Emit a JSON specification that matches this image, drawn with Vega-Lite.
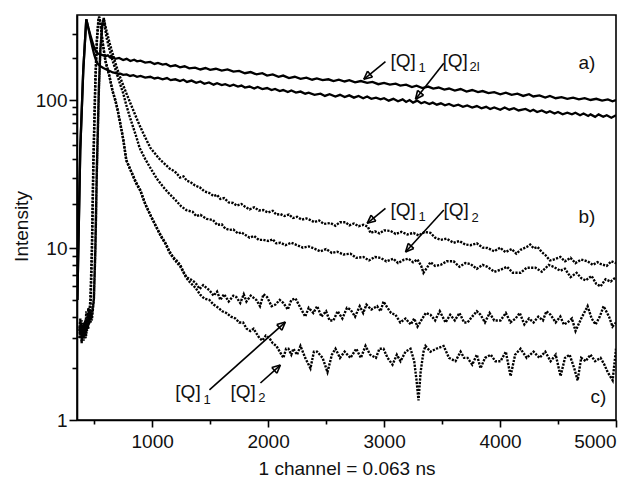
{
"$schema": "https://vega.github.io/schema/vega-lite/v6.json",
"width": 539, "height": 405,
"autosize": {"type": "none"},
"padding": {"left": 77, "top": 15, "right": 4, "bottom": 61},
"background": "white",
"config": {
  "view": {"stroke": "#000", "strokeWidth": 1.6},
  "font": "Liberation Sans",
  "axis": {"domainColor": "#000", "domainWidth": 1.6, "tickColor": "#000", "tickWidth": 1.6, "labelColor": "#111", "titleColor": "#111", "labelFont": "Liberation Sans", "titleFont": "Liberation Sans", "labelFontSize": 19, "titleFontSize": 19, "titleFontWeight": "normal", "grid": false}
},
"datasets": {
"curves": [
{"s":"a1","x":355,"y":5.0},{"s":"a1","x":380,"y":46},{"s":"a1","x":406,"y":164},{"s":"a1","x":432,"y":382},{"s":"a1","x":450,"y":330},{"s":"a1","x":467,"y":294},{"s":"a1","x":485,"y":262},{"s":"a1","x":501,"y":237},{"s":"a1","x":515,"y":225},{"s":"a1","x":527,"y":218},{"s":"a1","x":545,"y":214},{"s":"a1","x":560,"y":212},{"s":"a1","x":578,"y":210},{"s":"a1","x":596,"y":207},{"s":"a1","x":618,"y":210},{"s":"a1","x":640,"y":202},{"s":"a1","x":660,"y":205},{"s":"a1","x":682,"y":198},{"s":"a1","x":715,"y":201},{"s":"a1","x":750,"y":194},{"s":"a1","x":780,"y":198},{"s":"a1","x":812,"y":191},{"s":"a1","x":845,"y":195},{"s":"a1","x":870,"y":190},{"s":"a1","x":900,"y":192},{"s":"a1","x":940,"y":186},{"s":"a1","x":984,"y":188},{"s":"a1","x":1020,"y":182},{"s":"a1","x":1050,"y":185},{"s":"a1","x":1090,"y":180},{"s":"a1","x":1120,"y":182},{"s":"a1","x":1157,"y":175},{"s":"a1","x":1200,"y":178},{"s":"a1","x":1240,"y":172},{"s":"a1","x":1280,"y":175},{"s":"a1","x":1320,"y":169},{"s":"a1","x":1370,"y":171},{"s":"a1","x":1416,"y":166},{"s":"a1","x":1460,"y":170},{"s":"a1","x":1500,"y":165},{"s":"a1","x":1550,"y":168},{"s":"a1","x":1600,"y":163},{"s":"a1","x":1650,"y":166},{"s":"a1","x":1701,"y":160},{"s":"a1","x":1750,"y":162},{"s":"a1","x":1800,"y":156},{"s":"a1","x":1850,"y":159},{"s":"a1","x":1900,"y":153},{"s":"a1","x":1950,"y":156},{"s":"a1","x":1991,"y":150},{"s":"a1","x":2040,"y":153},{"s":"a1","x":2090,"y":147},{"s":"a1","x":2130,"y":150},{"s":"a1","x":2180,"y":144},{"s":"a1","x":2230,"y":147},{"s":"a1","x":2280,"y":142},{"s":"a1","x":2330,"y":145},{"s":"a1","x":2380,"y":140},{"s":"a1","x":2420,"y":143},{"s":"a1","x":2470,"y":139},{"s":"a1","x":2520,"y":141},{"s":"a1","x":2564,"y":137},{"s":"a1","x":2610,"y":140},{"s":"a1","x":2660,"y":136},{"s":"a1","x":2700,"y":139},{"s":"a1","x":2750,"y":134},{"s":"a1","x":2800,"y":137},{"s":"a1","x":2854,"y":133},{"s":"a1","x":2900,"y":135},{"s":"a1","x":2950,"y":130},{"s":"a1","x":3000,"y":133},{"s":"a1","x":3050,"y":129},{"s":"a1","x":3100,"y":131},{"s":"a1","x":3140,"y":127},{"s":"a1","x":3190,"y":129},{"s":"a1","x":3240,"y":124},{"s":"a1","x":3280,"y":127},{"s":"a1","x":3330,"y":122},{"s":"a1","x":3380,"y":125},{"s":"a1","x":3424,"y":121},{"s":"a1","x":3470,"y":123},{"s":"a1","x":3520,"y":119},{"s":"a1","x":3560,"y":121},{"s":"a1","x":3610,"y":117},{"s":"a1","x":3660,"y":120},{"s":"a1","x":3711,"y":115},{"s":"a1","x":3760,"y":118},{"s":"a1","x":3810,"y":114},{"s":"a1","x":3850,"y":116},{"s":"a1","x":3900,"y":112},{"s":"a1","x":3950,"y":114},{"s":"a1","x":4002,"y":110},{"s":"a1","x":4050,"y":113},{"s":"a1","x":4100,"y":109},{"s":"a1","x":4150,"y":111},{"s":"a1","x":4200,"y":107},{"s":"a1","x":4250,"y":110},{"s":"a1","x":4287,"y":106},{"s":"a1","x":4340,"y":108},{"s":"a1","x":4390,"y":104},{"s":"a1","x":4430,"y":107},{"s":"a1","x":4480,"y":103},{"s":"a1","x":4530,"y":105},{"s":"a1","x":4580,"y":102},{"s":"a1","x":4630,"y":104},{"s":"a1","x":4680,"y":101},{"s":"a1","x":4730,"y":103},{"s":"a1","x":4781,"y":100},{"s":"a1","x":4830,"y":102},{"s":"a1","x":4880,"y":99},{"s":"a1","x":4930,"y":101},{"s":"a1","x":4970,"y":98},{"s":"a1","x":5000,"y":100},
{"s":"a2","x":355,"y":5.0},{"s":"a2","x":380,"y":46},{"s":"a2","x":406,"y":164},{"s":"a2","x":432,"y":382},{"s":"a2","x":450,"y":330},{"s":"a2","x":467,"y":280},{"s":"a2","x":485,"y":240},{"s":"a2","x":501,"y":211},{"s":"a2","x":515,"y":195},{"s":"a2","x":527,"y":184},{"s":"a2","x":550,"y":176},{"s":"a2","x":579,"y":170},{"s":"a2","x":610,"y":165},{"s":"a2","x":639,"y":161},{"s":"a2","x":660,"y":158},{"s":"a2","x":680,"y":157},{"s":"a2","x":700,"y":155},{"s":"a2","x":726,"y":155},{"s":"a2","x":750,"y":152},{"s":"a2","x":780,"y":153},{"s":"a2","x":810,"y":149},{"s":"a2","x":838,"y":151},{"s":"a2","x":870,"y":147},{"s":"a2","x":900,"y":149},{"s":"a2","x":940,"y":145},{"s":"a2","x":984,"y":147},{"s":"a2","x":1020,"y":143},{"s":"a2","x":1050,"y":145},{"s":"a2","x":1090,"y":141},{"s":"a2","x":1128,"y":144},{"s":"a2","x":1160,"y":139},{"s":"a2","x":1200,"y":141},{"s":"a2","x":1240,"y":137},{"s":"a2","x":1270,"y":140},{"s":"a2","x":1300,"y":135},{"s":"a2","x":1340,"y":138},{"s":"a2","x":1380,"y":133},{"s":"a2","x":1416,"y":136},{"s":"a2","x":1450,"y":131},{"s":"a2","x":1490,"y":134},{"s":"a2","x":1530,"y":129},{"s":"a2","x":1560,"y":132},{"s":"a2","x":1600,"y":128},{"s":"a2","x":1630,"y":130},{"s":"a2","x":1670,"y":126},{"s":"a2","x":1701,"y":129},{"s":"a2","x":1740,"y":125},{"s":"a2","x":1770,"y":127},{"s":"a2","x":1800,"y":123},{"s":"a2","x":1840,"y":125},{"s":"a2","x":1880,"y":121},{"s":"a2","x":1910,"y":124},{"s":"a2","x":1950,"y":120},{"s":"a2","x":1991,"y":122},{"s":"a2","x":2030,"y":118},{"s":"a2","x":2060,"y":120},{"s":"a2","x":2100,"y":116},{"s":"a2","x":2130,"y":118},{"s":"a2","x":2170,"y":114},{"s":"a2","x":2200,"y":117},{"s":"a2","x":2240,"y":113},{"s":"a2","x":2280,"y":115},{"s":"a2","x":2320,"y":111},{"s":"a2","x":2350,"y":113},{"s":"a2","x":2400,"y":109},{"s":"a2","x":2452,"y":111},{"s":"a2","x":2490,"y":107},{"s":"a2","x":2530,"y":110},{"s":"a2","x":2580,"y":106},{"s":"a2","x":2620,"y":109},{"s":"a2","x":2660,"y":105},{"s":"a2","x":2700,"y":108},{"s":"a2","x":2740,"y":104},{"s":"a2","x":2780,"y":107},{"s":"a2","x":2820,"y":103},{"s":"a2","x":2854,"y":106},{"s":"a2","x":2890,"y":102},{"s":"a2","x":2930,"y":104},{"s":"a2","x":2970,"y":101},{"s":"a2","x":3000,"y":103},{"s":"a2","x":3040,"y":99},{"s":"a2","x":3080,"y":102},{"s":"a2","x":3120,"y":98},{"s":"a2","x":3160,"y":101},{"s":"a2","x":3190,"y":97},{"s":"a2","x":3220,"y":100},{"s":"a2","x":3250,"y":96},{"s":"a2","x":3285,"y":99},{"s":"a2","x":3320,"y":95},{"s":"a2","x":3350,"y":97},{"s":"a2","x":3390,"y":94},{"s":"a2","x":3420,"y":96},{"s":"a2","x":3455,"y":93},{"s":"a2","x":3490,"y":95},{"s":"a2","x":3525,"y":92},{"s":"a2","x":3560,"y":94},{"s":"a2","x":3600,"y":91},{"s":"a2","x":3640,"y":93},{"s":"a2","x":3680,"y":90},{"s":"a2","x":3717,"y":92},{"s":"a2","x":3760,"y":89},{"s":"a2","x":3800,"y":91},{"s":"a2","x":3840,"y":88},{"s":"a2","x":3880,"y":90},{"s":"a2","x":3915,"y":87},{"s":"a2","x":3950,"y":89},{"s":"a2","x":4002,"y":86},{"s":"a2","x":4040,"y":89},{"s":"a2","x":4080,"y":86},{"s":"a2","x":4120,"y":88},{"s":"a2","x":4160,"y":85},{"s":"a2","x":4220,"y":87},{"s":"a2","x":4260,"y":84},{"s":"a2","x":4287,"y":86},{"s":"a2","x":4320,"y":83},{"s":"a2","x":4360,"y":85},{"s":"a2","x":4400,"y":82},{"s":"a2","x":4430,"y":84},{"s":"a2","x":4470,"y":81},{"s":"a2","x":4500,"y":83},{"s":"a2","x":4540,"y":80},{"s":"a2","x":4580,"y":82},{"s":"a2","x":4620,"y":80},{"s":"a2","x":4650,"y":82},{"s":"a2","x":4690,"y":79},{"s":"a2","x":4720,"y":81},{"s":"a2","x":4760,"y":78},{"s":"a2","x":4781,"y":80},{"s":"a2","x":4820,"y":77},{"s":"a2","x":4850,"y":80},{"s":"a2","x":4890,"y":77},{"s":"a2","x":4920,"y":79},{"s":"a2","x":4960,"y":76},{"s":"a2","x":5000,"y":79},
{"s":"c1","x":372,"y":3.3},{"s":"c1","x":381,"y":3.9},{"s":"c1","x":390,"y":3.1},{"s":"c1","x":398,"y":3.6},{"s":"c1","x":406,"y":3.0},{"s":"c1","x":415,"y":3.7},{"s":"c1","x":424,"y":3.2},{"s":"c1","x":432,"y":4.3},{"s":"c1","x":441,"y":3.6},{"s":"c1","x":450,"y":4.5},{"s":"c1","x":458,"y":4.2},{"s":"c1","x":467,"y":5.0},{"s":"c1","x":480,"y":9.8},{"s":"c1","x":493,"y":39},{"s":"c1","x":510,"y":139},{"s":"c1","x":523,"y":271},{"s":"c1","x":536,"y":377},{"s":"c1","x":542,"y":399},{"s":"c1","x":553,"y":365},{"s":"c1","x":570,"y":271},{"s":"c1","x":596,"y":194},{"s":"c1","x":633,"y":147},{"s":"c1","x":657,"y":118},{"s":"c1","x":683,"y":100},{"s":"c1","x":700,"y":88},{"s":"c1","x":720,"y":73},{"s":"c1","x":750,"y":55},{"s":"c1","x":777,"y":39.4},{"s":"c1","x":820,"y":33},{"s":"c1","x":860,"y":28},{"s":"c1","x":898,"y":24.7},{"s":"c1","x":940,"y":20},{"s":"c1","x":990,"y":16.5},{"s":"c1","x":1036,"y":14.0},{"s":"c1","x":1075,"y":12.2},{"s":"c1","x":1114,"y":10.9},{"s":"c1","x":1150,"y":9.6},{"s":"c1","x":1180,"y":8.9},{"s":"c1","x":1210,"y":8.5},{"s":"c1","x":1243,"y":8.0},{"s":"c1","x":1270,"y":7.3},{"s":"c1","x":1295,"y":6.8},{"s":"c1","x":1330,"y":6.6},{"s":"c1","x":1373,"y":6.3},{"s":"c1","x":1410,"y":5.8},{"s":"c1","x":1440,"y":6.1},{"s":"c1","x":1494,"y":5.7},{"s":"c1","x":1530,"y":5.3},{"s":"c1","x":1560,"y":5.6},{"s":"c1","x":1588,"y":5.0},{"s":"c1","x":1620,"y":5.4},{"s":"c1","x":1660,"y":4.9},{"s":"c1","x":1700,"y":5.3},{"s":"c1","x":1726,"y":5.2},{"s":"c1","x":1760,"y":4.8},{"s":"c1","x":1790,"y":5.4},{"s":"c1","x":1813,"y":4.9},{"s":"c1","x":1850,"y":5.3},{"s":"c1","x":1899,"y":5.0},{"s":"c1","x":1930,"y":4.6},{"s":"c1","x":1960,"y":5.4},{"s":"c1","x":1991,"y":5.2},{"s":"c1","x":2030,"y":4.6},{"s":"c1","x":2063,"y":4.7},{"s":"c1","x":2100,"y":5.0},{"s":"c1","x":2132,"y":4.8},{"s":"c1","x":2170,"y":4.4},{"s":"c1","x":2200,"y":5.0},{"s":"c1","x":2236,"y":5.1},{"s":"c1","x":2279,"y":4.5},{"s":"c1","x":2320,"y":4.0},{"s":"c1","x":2350,"y":4.5},{"s":"c1","x":2390,"y":4.2},{"s":"c1","x":2423,"y":4.6},{"s":"c1","x":2460,"y":4.0},{"s":"c1","x":2500,"y":4.3},{"s":"c1","x":2530,"y":3.8},{"s":"c1","x":2563,"y":3.8},{"s":"c1","x":2600,"y":4.3},{"s":"c1","x":2640,"y":3.9},{"s":"c1","x":2680,"y":4.5},{"s":"c1","x":2710,"y":4.4},{"s":"c1","x":2750,"y":4.0},{"s":"c1","x":2790,"y":4.6},{"s":"c1","x":2820,"y":4.2},{"s":"c1","x":2848,"y":4.7},{"s":"c1","x":2890,"y":4.4},{"s":"c1","x":2940,"y":4.6},{"s":"c1","x":2970,"y":4.3},{"s":"c1","x":2995,"y":4.9},{"s":"c1","x":3030,"y":4.5},{"s":"c1","x":3060,"y":4.2},{"s":"c1","x":3098,"y":4.1},{"s":"c1","x":3140,"y":3.7},{"s":"c1","x":3185,"y":3.9},{"s":"c1","x":3230,"y":3.6},{"s":"c1","x":3260,"y":3.9},{"s":"c1","x":3288,"y":3.5},{"s":"c1","x":3320,"y":3.8},{"s":"c1","x":3360,"y":4.2},{"s":"c1","x":3400,"y":4.1},{"s":"c1","x":3440,"y":3.8},{"s":"c1","x":3480,"y":4.3},{"s":"c1","x":3530,"y":3.7},{"s":"c1","x":3570,"y":4.1},{"s":"c1","x":3610,"y":3.8},{"s":"c1","x":3650,"y":4.2},{"s":"c1","x":3690,"y":3.7},{"s":"c1","x":3720,"y":3.7},{"s":"c1","x":3760,"y":4.0},{"s":"c1","x":3800,"y":4.3},{"s":"c1","x":3832,"y":4.1},{"s":"c1","x":3870,"y":3.7},{"s":"c1","x":3910,"y":4.2},{"s":"c1","x":3950,"y":3.8},{"s":"c1","x":4004,"y":3.8},{"s":"c1","x":4050,"y":4.2},{"s":"c1","x":4090,"y":3.7},{"s":"c1","x":4134,"y":3.9},{"s":"c1","x":4170,"y":4.2},{"s":"c1","x":4210,"y":3.6},{"s":"c1","x":4250,"y":3.9},{"s":"c1","x":4289,"y":3.7},{"s":"c1","x":4330,"y":4.0},{"s":"c1","x":4370,"y":3.8},{"s":"c1","x":4400,"y":4.3},{"s":"c1","x":4436,"y":4.1},{"s":"c1","x":4480,"y":3.7},{"s":"c1","x":4520,"y":4.0},{"s":"c1","x":4550,"y":3.6},{"s":"c1","x":4582,"y":3.7},{"s":"c1","x":4620,"y":3.9},{"s":"c1","x":4651,"y":3.3},{"s":"c1","x":4700,"y":3.9},{"s":"c1","x":4755,"y":4.6},{"s":"c1","x":4790,"y":3.9},{"s":"c1","x":4824,"y":3.6},{"s":"c1","x":4860,"y":4.0},{"s":"c1","x":4893,"y":4.6},{"s":"c1","x":4940,"y":4.0},{"s":"c1","x":4970,"y":3.5},{"s":"c1","x":5000,"y":3.7},
{"s":"c2","x":372,"y":3.0},{"s":"c2","x":383,"y":3.5},{"s":"c2","x":392,"y":2.8},{"s":"c2","x":400,"y":3.3},{"s":"c2","x":409,"y":2.9},{"s":"c2","x":418,"y":3.4},{"s":"c2","x":426,"y":3.0},{"s":"c2","x":434,"y":3.8},{"s":"c2","x":443,"y":3.4},{"s":"c2","x":452,"y":4.0},{"s":"c2","x":460,"y":3.8},{"s":"c2","x":469,"y":4.6},{"s":"c2","x":481,"y":9.5},{"s":"c2","x":494,"y":38},{"s":"c2","x":511,"y":137},{"s":"c2","x":524,"y":268},{"s":"c2","x":537,"y":375},{"s":"c2","x":543,"y":397},{"s":"c2","x":554,"y":362},{"s":"c2","x":571,"y":268},{"s":"c2","x":597,"y":191},{"s":"c2","x":634,"y":145},{"s":"c2","x":658,"y":116},{"s":"c2","x":684,"y":98},{"s":"c2","x":701,"y":86},{"s":"c2","x":721,"y":72},{"s":"c2","x":751,"y":54},{"s":"c2","x":778,"y":39},{"s":"c2","x":821,"y":32.5},{"s":"c2","x":861,"y":27.5},{"s":"c2","x":899,"y":24.3},{"s":"c2","x":941,"y":19.8},{"s":"c2","x":991,"y":16.3},{"s":"c2","x":1037,"y":13.8},{"s":"c2","x":1076,"y":12.0},{"s":"c2","x":1115,"y":10.7},{"s":"c2","x":1151,"y":9.4},{"s":"c2","x":1181,"y":8.8},{"s":"c2","x":1211,"y":8.3},{"s":"c2","x":1244,"y":7.8},{"s":"c2","x":1271,"y":7.2},{"s":"c2","x":1296,"y":6.7},{"s":"c2","x":1330,"y":6.3},{"s":"c2","x":1373,"y":5.9},{"s":"c2","x":1416,"y":5.35},{"s":"c2","x":1450,"y":5.1},{"s":"c2","x":1494,"y":5.0},{"s":"c2","x":1530,"y":4.7},{"s":"c2","x":1571,"y":4.5},{"s":"c2","x":1605,"y":4.3},{"s":"c2","x":1640,"y":4.2},{"s":"c2","x":1680,"y":4.0},{"s":"c2","x":1718,"y":3.9},{"s":"c2","x":1750,"y":3.7},{"s":"c2","x":1784,"y":3.7},{"s":"c2","x":1815,"y":3.4},{"s":"c2","x":1847,"y":3.3},{"s":"c2","x":1875,"y":3.4},{"s":"c2","x":1899,"y":3.2},{"s":"c2","x":1925,"y":3.0},{"s":"c2","x":1950,"y":2.9},{"s":"c2","x":1980,"y":3.1},{"s":"c2","x":2011,"y":3.0},{"s":"c2","x":2040,"y":2.8},{"s":"c2","x":2072,"y":2.7},{"s":"c2","x":2100,"y":2.5},{"s":"c2","x":2132,"y":2.3},{"s":"c2","x":2155,"y":2.6},{"s":"c2","x":2175,"y":2.6},{"s":"c2","x":2200,"y":2.4},{"s":"c2","x":2218,"y":2.6},{"s":"c2","x":2250,"y":2.4},{"s":"c2","x":2279,"y":2.7},{"s":"c2","x":2320,"y":2.3},{"s":"c2","x":2365,"y":2.0},{"s":"c2","x":2395,"y":2.5},{"s":"c2","x":2423,"y":2.5},{"s":"c2","x":2470,"y":2.3},{"s":"c2","x":2512,"y":1.9},{"s":"c2","x":2550,"y":2.4},{"s":"c2","x":2581,"y":2.6},{"s":"c2","x":2620,"y":2.3},{"s":"c2","x":2660,"y":2.5},{"s":"c2","x":2710,"y":2.3},{"s":"c2","x":2760,"y":2.6},{"s":"c2","x":2800,"y":2.3},{"s":"c2","x":2840,"y":2.7},{"s":"c2","x":2880,"y":2.4},{"s":"c2","x":2930,"y":2.3},{"s":"c2","x":2960,"y":2.6},{"s":"c2","x":2995,"y":2.6},{"s":"c2","x":3030,"y":2.3},{"s":"c2","x":3073,"y":2.1},{"s":"c2","x":3110,"y":2.4},{"s":"c2","x":3142,"y":2.2},{"s":"c2","x":3185,"y":2.5},{"s":"c2","x":3228,"y":2.6},{"s":"c2","x":3260,"y":2.2},{"s":"c2","x":3280,"y":1.7},{"s":"c2","x":3297,"y":1.3},{"s":"c2","x":3315,"y":1.9},{"s":"c2","x":3340,"y":2.5},{"s":"c2","x":3357,"y":2.7},{"s":"c2","x":3400,"y":2.5},{"s":"c2","x":3450,"y":2.6},{"s":"c2","x":3513,"y":2.7},{"s":"c2","x":3560,"y":2.3},{"s":"c2","x":3616,"y":2.2},{"s":"c2","x":3660,"y":2.5},{"s":"c2","x":3690,"y":2.3},{"s":"c2","x":3720,"y":2.3},{"s":"c2","x":3760,"y":2.1},{"s":"c2","x":3800,"y":2.4},{"s":"c2","x":3832,"y":2.0},{"s":"c2","x":3870,"y":2.3},{"s":"c2","x":3920,"y":2.4},{"s":"c2","x":3960,"y":2.2},{"s":"c2","x":4004,"y":2.2},{"s":"c2","x":4050,"y":2.5},{"s":"c2","x":4091,"y":1.8},{"s":"c2","x":4130,"y":2.4},{"s":"c2","x":4177,"y":2.6},{"s":"c2","x":4230,"y":2.3},{"s":"c2","x":4289,"y":2.5},{"s":"c2","x":4340,"y":2.3},{"s":"c2","x":4390,"y":2.5},{"s":"c2","x":4436,"y":2.2},{"s":"c2","x":4480,"y":2.4},{"s":"c2","x":4522,"y":1.8},{"s":"c2","x":4560,"y":2.3},{"s":"c2","x":4600,"y":2.4},{"s":"c2","x":4640,"y":2.0},{"s":"c2","x":4669,"y":1.7},{"s":"c2","x":4700,"y":2.3},{"s":"c2","x":4738,"y":2.2},{"s":"c2","x":4780,"y":2.4},{"s":"c2","x":4820,"y":2.2},{"s":"c2","x":4867,"y":2.3},{"s":"c2","x":4900,"y":2.1},{"s":"c2","x":4928,"y":1.9},{"s":"c2","x":4971,"y":1.7},{"s":"c2","x":5000,"y":2.6},
{"s":"b1","x":374,"y":3.5},{"s":"b1","x":384,"y":3.0},{"s":"b1","x":393,"y":3.8},{"s":"b1","x":402,"y":3.2},{"s":"b1","x":411,"y":3.5},{"s":"b1","x":420,"y":3.0},{"s":"b1","x":429,"y":3.9},{"s":"b1","x":438,"y":3.3},{"s":"b1","x":447,"y":4.2},{"s":"b1","x":456,"y":3.6},{"s":"b1","x":466,"y":4.4},{"s":"b1","x":480,"y":3.8},{"s":"b1","x":497,"y":5.0},{"s":"b1","x":510,"y":9.8},{"s":"b1","x":523,"y":34},{"s":"b1","x":540,"y":118},{"s":"b1","x":553,"y":229},{"s":"b1","x":570,"y":347},{"s":"b1","x":582,"y":388},{"s":"b1","x":605,"y":320},{"s":"b1","x":633,"y":258},{"s":"b1","x":660,"y":215},{"s":"b1","x":683,"y":185},{"s":"b1","x":705,"y":162},{"s":"b1","x":726,"y":144},{"s":"b1","x":750,"y":128},{"s":"b1","x":777,"y":112},{"s":"b1","x":815,"y":94},{"s":"b1","x":855,"y":79},{"s":"b1","x":890,"y":68},{"s":"b1","x":922,"y":60},{"s":"b1","x":955,"y":53},{"s":"b1","x":985,"y":47.5},{"s":"b1","x":1030,"y":43},{"s":"b1","x":1071,"y":39.4},{"s":"b1","x":1110,"y":37},{"s":"b1","x":1150,"y":34.5},{"s":"b1","x":1180,"y":33.5},{"s":"b1","x":1209,"y":32.2},{"s":"b1","x":1240,"y":30},{"s":"b1","x":1270,"y":30.5},{"s":"b1","x":1300,"y":28.5},{"s":"b1","x":1330,"y":28},{"s":"b1","x":1370,"y":26.5},{"s":"b1","x":1410,"y":25.8},{"s":"b1","x":1450,"y":24.2},{"s":"b1","x":1494,"y":23.6},{"s":"b1","x":1530,"y":22.5},{"s":"b1","x":1560,"y":22.9},{"s":"b1","x":1588,"y":21.5},{"s":"b1","x":1620,"y":21.8},{"s":"b1","x":1660,"y":20.4},{"s":"b1","x":1698,"y":20.2},{"s":"b1","x":1730,"y":19.4},{"s":"b1","x":1770,"y":19.9},{"s":"b1","x":1804,"y":19.0},{"s":"b1","x":1840,"y":18.3},{"s":"b1","x":1880,"y":18.9},{"s":"b1","x":1920,"y":18.0},{"s":"b1","x":1959,"y":18.1},{"s":"b1","x":2000,"y":17.4},{"s":"b1","x":2040,"y":17.9},{"s":"b1","x":2070,"y":16.9},{"s":"b1","x":2106,"y":17.0},{"s":"b1","x":2140,"y":16.5},{"s":"b1","x":2180,"y":16.9},{"s":"b1","x":2215,"y":16.0},{"s":"b1","x":2250,"y":16.3},{"s":"b1","x":2290,"y":15.6},{"s":"b1","x":2330,"y":15.9},{"s":"b1","x":2365,"y":15.5},{"s":"b1","x":2400,"y":15.0},{"s":"b1","x":2440,"y":15.4},{"s":"b1","x":2480,"y":14.6},{"s":"b1","x":2538,"y":14.8},{"s":"b1","x":2580,"y":14.2},{"s":"b1","x":2620,"y":15.0},{"s":"b1","x":2667,"y":15.0},{"s":"b1","x":2700,"y":14.3},{"s":"b1","x":2740,"y":14.7},{"s":"b1","x":2780,"y":14.1},{"s":"b1","x":2822,"y":14.4},{"s":"b1","x":2860,"y":14.0},{"s":"b1","x":2883,"y":12.7},{"s":"b1","x":2920,"y":13.0},{"s":"b1","x":2960,"y":12.6},{"s":"b1","x":3000,"y":13.2},{"s":"b1","x":3055,"y":13.1},{"s":"b1","x":3100,"y":12.5},{"s":"b1","x":3150,"y":12.9},{"s":"b1","x":3200,"y":12.4},{"s":"b1","x":3254,"y":12.7},{"s":"b1","x":3300,"y":12.2},{"s":"b1","x":3350,"y":12.9},{"s":"b1","x":3400,"y":12.7},{"s":"b1","x":3440,"y":11.8},{"s":"b1","x":3487,"y":11.4},{"s":"b1","x":3540,"y":11.6},{"s":"b1","x":3599,"y":10.9},{"s":"b1","x":3650,"y":11.2},{"s":"b1","x":3700,"y":10.6},{"s":"b1","x":3745,"y":10.5},{"s":"b1","x":3800,"y":10.8},{"s":"b1","x":3850,"y":10.1},{"s":"b1","x":3892,"y":10.05},{"s":"b1","x":3950,"y":9.6},{"s":"b1","x":4000,"y":10.1},{"s":"b1","x":4047,"y":9.5},{"s":"b1","x":4100,"y":9.9},{"s":"b1","x":4140,"y":9.3},{"s":"b1","x":4177,"y":9.8},{"s":"b1","x":4230,"y":10.2},{"s":"b1","x":4260,"y":10.6},{"s":"b1","x":4290,"y":10.0},{"s":"b1","x":4324,"y":10.2},{"s":"b1","x":4360,"y":9.5},{"s":"b1","x":4393,"y":9.1},{"s":"b1","x":4430,"y":8.5},{"s":"b1","x":4462,"y":8.6},{"s":"b1","x":4520,"y":8.9},{"s":"b1","x":4560,"y":8.4},{"s":"b1","x":4608,"y":8.8},{"s":"b1","x":4650,"y":8.2},{"s":"b1","x":4700,"y":8.6},{"s":"b1","x":4755,"y":8.4},{"s":"b1","x":4800,"y":8.0},{"s":"b1","x":4840,"y":8.3},{"s":"b1","x":4867,"y":8.1},{"s":"b1","x":4920,"y":7.9},{"s":"b1","x":4960,"y":8.4},{"s":"b1","x":5000,"y":8.2},
{"s":"b2","x":376,"y":3.2},{"s":"b2","x":386,"y":3.7},{"s":"b2","x":395,"y":2.9},{"s":"b2","x":404,"y":3.4},{"s":"b2","x":413,"y":3.1},{"s":"b2","x":422,"y":3.8},{"s":"b2","x":431,"y":3.1},{"s":"b2","x":440,"y":3.7},{"s":"b2","x":449,"y":3.4},{"s":"b2","x":458,"y":4.0},{"s":"b2","x":468,"y":3.7},{"s":"b2","x":482,"y":4.2},{"s":"b2","x":498,"y":5.1},{"s":"b2","x":511,"y":10},{"s":"b2","x":524,"y":35},{"s":"b2","x":541,"y":120},{"s":"b2","x":554,"y":232},{"s":"b2","x":571,"y":350},{"s":"b2","x":583,"y":390},{"s":"b2","x":605,"y":286},{"s":"b2","x":630,"y":235},{"s":"b2","x":657,"y":194},{"s":"b2","x":690,"y":160},{"s":"b2","x":720,"y":133},{"s":"b2","x":750,"y":112},{"s":"b2","x":777,"y":92.5},{"s":"b2","x":805,"y":78},{"s":"b2","x":835,"y":66},{"s":"b2","x":865,"y":56},{"s":"b2","x":892,"y":47.5},{"s":"b2","x":940,"y":40},{"s":"b2","x":985,"y":34.8},{"s":"b2","x":1040,"y":29.5},{"s":"b2","x":1094,"y":26.0},{"s":"b2","x":1150,"y":23.2},{"s":"b2","x":1200,"y":21.2},{"s":"b2","x":1250,"y":19.2},{"s":"b2","x":1295,"y":18.1},{"s":"b2","x":1350,"y":17.6},{"s":"b2","x":1380,"y":16.5},{"s":"b2","x":1416,"y":16.8},{"s":"b2","x":1470,"y":15.8},{"s":"b2","x":1525,"y":15.5},{"s":"b2","x":1560,"y":14.4},{"s":"b2","x":1600,"y":14.5},{"s":"b2","x":1630,"y":13.6},{"s":"b2","x":1666,"y":13.3},{"s":"b2","x":1700,"y":13.4},{"s":"b2","x":1740,"y":12.6},{"s":"b2","x":1770,"y":12.8},{"s":"b2","x":1804,"y":12.3},{"s":"b2","x":1840,"y":11.8},{"s":"b2","x":1880,"y":12.1},{"s":"b2","x":1920,"y":11.4},{"s":"b2","x":1959,"y":11.4},{"s":"b2","x":2000,"y":11.2},{"s":"b2","x":2040,"y":11.5},{"s":"b2","x":2070,"y":10.8},{"s":"b2","x":2106,"y":10.9},{"s":"b2","x":2150,"y":10.5},{"s":"b2","x":2200,"y":10.9},{"s":"b2","x":2250,"y":10.5},{"s":"b2","x":2300,"y":10.1},{"s":"b2","x":2350,"y":10.3},{"s":"b2","x":2408,"y":9.9},{"s":"b2","x":2450,"y":9.6},{"s":"b2","x":2500,"y":9.9},{"s":"b2","x":2550,"y":9.4},{"s":"b2","x":2595,"y":9.55},{"s":"b2","x":2650,"y":9.2},{"s":"b2","x":2710,"y":9.3},{"s":"b2","x":2760,"y":8.8},{"s":"b2","x":2822,"y":8.9},{"s":"b2","x":2870,"y":8.5},{"s":"b2","x":2920,"y":8.9},{"s":"b2","x":2969,"y":8.8},{"s":"b2","x":3020,"y":8.4},{"s":"b2","x":3080,"y":8.7},{"s":"b2","x":3120,"y":8.2},{"s":"b2","x":3167,"y":8.55},{"s":"b2","x":3210,"y":8.7},{"s":"b2","x":3250,"y":8.3},{"s":"b2","x":3288,"y":8.6},{"s":"b2","x":3320,"y":7.9},{"s":"b2","x":3340,"y":7.2},{"s":"b2","x":3370,"y":7.7},{"s":"b2","x":3400,"y":8.3},{"s":"b2","x":3440,"y":7.9},{"s":"b2","x":3487,"y":8.0},{"s":"b2","x":3540,"y":8.4},{"s":"b2","x":3599,"y":8.4},{"s":"b2","x":3650,"y":7.8},{"s":"b2","x":3700,"y":8.2},{"s":"b2","x":3745,"y":8.1},{"s":"b2","x":3800,"y":7.6},{"s":"b2","x":3850,"y":8.0},{"s":"b2","x":3892,"y":7.8},{"s":"b2","x":3950,"y":7.3},{"s":"b2","x":4004,"y":7.5},{"s":"b2","x":4060,"y":7.8},{"s":"b2","x":4110,"y":7.2},{"s":"b2","x":4177,"y":7.2},{"s":"b2","x":4230,"y":7.7},{"s":"b2","x":4306,"y":7.7},{"s":"b2","x":4360,"y":7.3},{"s":"b2","x":4420,"y":8.0},{"s":"b2","x":4462,"y":7.8},{"s":"b2","x":4520,"y":7.4},{"s":"b2","x":4560,"y":7.6},{"s":"b2","x":4608,"y":6.8},{"s":"b2","x":4660,"y":7.2},{"s":"b2","x":4700,"y":6.7},{"s":"b2","x":4738,"y":6.5},{"s":"b2","x":4790,"y":6.9},{"s":"b2","x":4830,"y":6.2},{"s":"b2","x":4867,"y":6.0},{"s":"b2","x":4910,"y":6.6},{"s":"b2","x":4954,"y":6.4},{"s":"b2","x":5000,"y":6.8}
],
"arrows": [
{"x":3012,"y":188.9,"x2":2825,"y2":141.1},{"x":2825,"y":141.1,"x2":2900,"y2":146.3},{"x":2825,"y":141.1,"x2":2858,"y2":161.3},{"x":2900,"y":146.3,"x2":2858,"y2":161.3},
{"x":3515,"y":183.9,"x2":3271,"y2":101.2},{"x":3271,"y":101.2,"x2":3340,"y2":108.3},{"x":3271,"y":101.2,"x2":3289,"y2":117.1},{"x":3340,"y":108.3,"x2":3289,"y2":117.1},
{"x":3012,"y":18.6,"x2":2854,"y2":14.74},{"x":2854,"y":14.74,"x2":2929,"y2":15.26},{"x":2854,"y":14.74,"x2":2888,"y2":16.72},{"x":2929,"y":15.26,"x2":2888,"y2":16.72},
{"x":3515,"y":18.13,"x2":3185,"y2":9.52},{"x":3185,"y":9.52,"x2":3256,"y2":9.98},{"x":3185,"y":9.52,"x2":3208,"y2":10.79},{"x":3256,"y":9.98,"x2":3208,"y2":10.79},
{"x":1494,"y":1.496,"x2":2149,"y2":3.72},{"x":2149,"y":3.72,"x2":2075,"y2":3.594},{"x":2149,"y":3.72,"x2":2119,"y2":3.33},{"x":2075,"y":3.594,"x2":2119,"y2":3.33},
{"x":1934,"y":1.643,"x2":2106,"y2":2.09},{"x":2106,"y":2.09,"x2":2032,"y2":2.02},{"x":2106,"y":2.09,"x2":2076,"y2":1.871},{"x":2032,"y":2.02,"x2":2076,"y2":1.871}
],
"labels": [
{"t":"[Q]","x":3055,"y":191},{"t":"[Q]","x":3504,"y":191},{"t":"[Q]","x":3055,"y":18.1},{"t":"[Q]","x":3512,"y":18.1},{"t":"[Q]","x":1200,"y":1.456},{"t":"[Q]","x":1675,"y":1.456},
{"t":"a)","x":4677,"y":185},{"t":"b)","x":4677,"y":16.3},{"t":"c)","x":4781,"y":1.36}
],
"subs": [
{"t":"1","x":3297,"y":170},{"t":"2l","x":3737,"y":173},{"t":"1","x":3297,"y":16.3},{"t":"2","x":3754,"y":16.0},{"t":"1","x":1442,"y":1.31},{"t":"2","x":1916,"y":1.343}
]
},
"encoding": {
  "x": {"field": "x", "type": "quantitative",
        "scale": {"domain": [352, 5000], "nice": false, "zero": false},
        "axis": {"title": "1 channel = 0.063 ns", "values": [500,1000,1500,2000,2500,3000,3500,4000,4500,5000], "format": "d",
                 "labelExpr": "datum.value % 1000 === 0 ? datum.label : ''",
                 "tickSize": {"condition": {"test": "datum.value % 1000 === 0", "value": 7}, "value": 4},
                 "labelPadding": 5, "labelFlush": true, "titleY": 39}},
  "y": {"field": "y", "type": "quantitative",
        "scale": {"type": "log", "domain": [1, 10, 100, 410], "range": [405, 233.3, 85, 0], "nice": false},
        "axis": {"title": "Intensity", "values": [1,2,3,4,5,6,7,8,9,10,20,30,40,50,60,70,80,90,100,200,300], "format": "d",
                 "labelExpr": "datum.value === 1 || datum.value === 10 || datum.value === 100 ? datum.label : ''",
                 "tickSize": {"condition": {"test": "datum.value === 1 || datum.value === 10 || datum.value === 100", "value": 8}, "value": 5},
                 "labelPadding": 2, "titleX": -46, "titleY": 211}}
},
"layer": [
  {"data": {"name": "curves"}, "transform": [{"filter": "datum.s === 'a1' || datum.s === 'a2'"}],
   "mark": {"type": "line", "color": "#000", "strokeWidth": 2.3, "clip": true},
   "encoding": {"detail": {"field": "s"}}},
  {"data": {"name": "curves"}, "transform": [{"filter": "datum.s !== 'a1' && datum.s !== 'a2'"}],
   "mark": {"type": "line", "color": "#000", "strokeWidth": 2.4, "strokeDash": [2.2, 1.3], "clip": true},
   "encoding": {"detail": {"field": "s"}}},
  {"data": {"name": "arrows"}, "mark": {"type": "rule", "color": "#000", "strokeWidth": 1.6},
   "encoding": {"x2": {"field": "x2"}, "y2": {"field": "y2"}}},
  {"data": {"name": "labels"}, "mark": {"type": "text", "align": "left", "baseline": "middle", "fontSize": 19, "font": "Liberation Sans", "color": "#111"},
   "encoding": {"text": {"field": "t"}}},
  {"data": {"name": "subs"}, "mark": {"type": "text", "align": "left", "baseline": "middle", "fontSize": 13, "font": "Liberation Sans", "color": "#111"},
   "encoding": {"text": {"field": "t"}}}
]
}
